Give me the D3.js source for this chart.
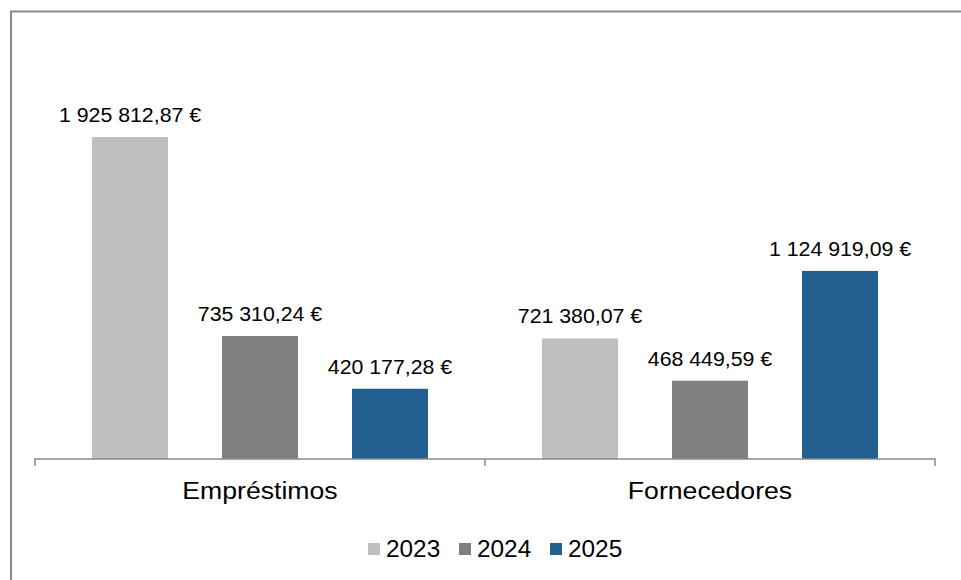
<!DOCTYPE html>
<html>
<head>
<meta charset="utf-8">
<script src="https://cdn.jsdelivr.net/npm/d3@7"></script>
<style>
  body { margin: 0; background: #fff; }
  text { font-family: "Liberation Sans", Arial, sans-serif; fill: #000; }
</style>
</head>
<body>
<div id="chart"></div>
<script>
var categories = ["Empréstimos", "Fornecedores"];
var years = ["2023", "2024", "2025"];
var values2023 = [1925812.87, 721380.07];
var values2024 = [735310.24, 468449.59];
var values2025 = [420177.28, 1124919.09];
var colors = ["#bfbfbf", "#808080", "#24608f"];

var series = [values2023, values2024, values2025];

var width = 961, height = 580;
var svg = d3.select("#chart").append("svg")
  .attr("width", width)
  .attr("height", height);

// outer frame (right and bottom are cut off in the picture)
svg.append("rect")
  .attr("x", 11).attr("y", 11.5)
  .attr("width", 980).attr("height", 600)
  .attr("fill", "none")
  .attr("stroke", "#8a8a8a")
  .attr("stroke-width", 2);

var x0 = d3.scaleBand().domain(categories).range([35, 935]).padding(0);
var x1 = d3.scaleBand().domain(years).range([0, x0.bandwidth()])
  .paddingInner(54 / 130).paddingOuter(57 / 130);
var y = d3.scaleLinear().domain([0, 2500000]).range([459, 41]);

var fmt = function(v) {
  var s = v.toFixed(2).split(".");
  var intPart = s[0].replace(/\B(?=(\d{3})+(?!\d))/g, " ");
  return intPart + "," + s[1] + " €";
};

// the source font is a bit wider than Liberation Sans, so stretch text horizontally
function place(px, py, sx) {
  return "translate(" + px + "," + py + ") scale(" + sx + ",1)";
}

var groups = svg.selectAll(".cat").data(categories).enter().append("g")
  .attr("class", "cat")
  .attr("transform", function(d) { return "translate(" + x0(d) + ",0)"; });

groups.selectAll("rect")
  .data(function(d, i) { return years.map(function(yr, j) { return {year: yr, value: series[j][i], j: j}; }); })
  .enter().append("rect")
    .attr("x", function(d) { return x1(d.year); })
    .attr("y", function(d) { return y(d.value); })
    .attr("width", x1.bandwidth())
    .attr("height", function(d) { return y(0) - y(d.value); })
    .attr("fill", function(d) { return colors[d.j]; });

groups.selectAll(".val")
  .data(function(d, i) { return years.map(function(yr, j) { return {year: yr, value: series[j][i]}; }); })
  .enter().append("text")
    .attr("class", "val")
    .attr("transform", function(d) {
      return place(x1(d.year) + x1.bandwidth() / 2, y(d.value) - 15, 1.04);
    })
    .attr("text-anchor", "middle")
    .style("font-size", "20.5px")
    .text(function(d) { return fmt(d.value); });

// category axis
var xAxis = svg.append("g")
  .attr("transform", "translate(0," + y(0) + ")")
  .call(d3.axisBottom(x0).tickSize(0).tickFormat(""));
xAxis.select(".domain").attr("stroke", "#8a8a8a").attr("stroke-width", 1.5)
  .attr("d", "M35,7V0H935V7");
xAxis.append("line")
  .attr("x1", 485).attr("x2", 485).attr("y1", 0).attr("y2", 7)
  .attr("stroke", "#8a8a8a").attr("stroke-width", 1.5);

svg.selectAll(".catlabel").data(categories).enter().append("text")
  .attr("class", "catlabel")
  .attr("transform", function(d) { return place(x0(d) + x0.bandwidth() / 2, 499, 1.11); })
  .attr("text-anchor", "middle")
  .style("font-size", "24px")
  .text(function(d) { return d; });

// legend
var legendX = [368, 459, 550];
var legend = svg.selectAll(".leg").data(years).enter().append("g")
  .attr("class", "leg")
  .attr("transform", function(d, i) { return "translate(" + legendX[i] + ",543)"; });
legend.append("rect")
  .attr("width", 12).attr("height", 12)
  .attr("fill", function(d, i) { return colors[i]; });
legend.append("text")
  .attr("transform", place(18, 13.5, 1.06))
  .style("font-size", "23px")
  .text(function(d) { return d; });
</script>
</body>
</html>
